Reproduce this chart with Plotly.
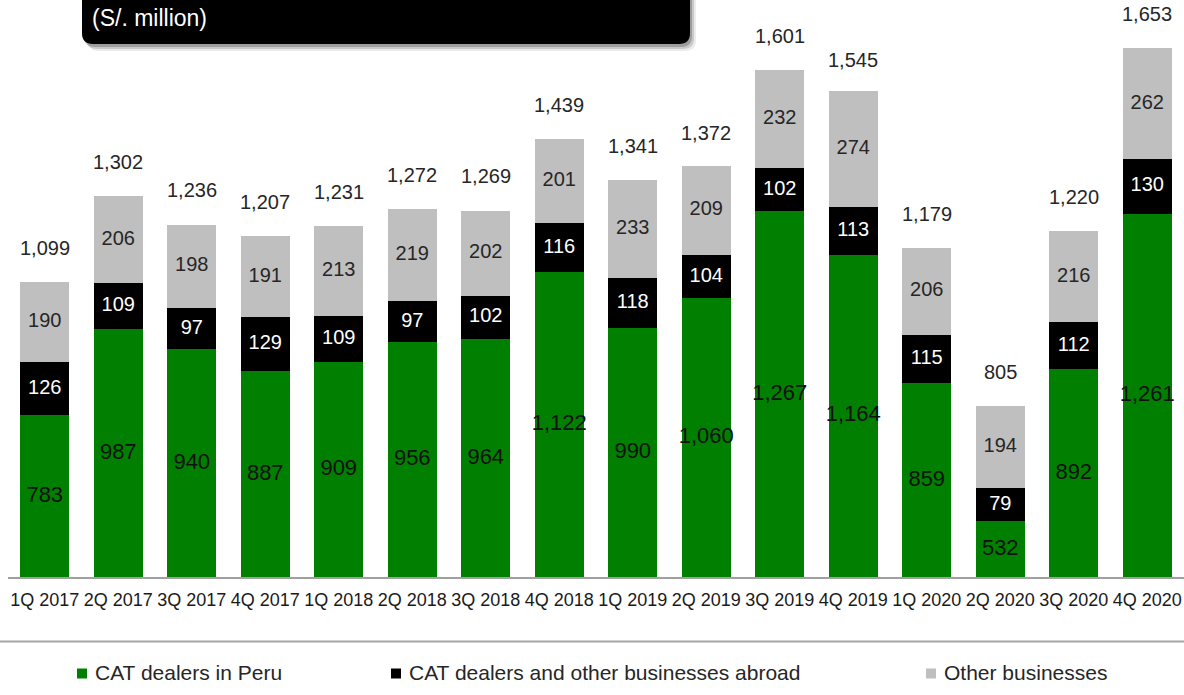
import plotly.graph_objects as go

# Quarterly revenues by business line (S/. million)
quarters = ["1Q 2017", "2Q 2017", "3Q 2017", "4Q 2017",
            "1Q 2018", "2Q 2018", "3Q 2018", "4Q 2018",
            "1Q 2019", "2Q 2019", "3Q 2019", "4Q 2019",
            "1Q 2020", "2Q 2020", "3Q 2020", "4Q 2020"]
cat_peru = [783, 987, 940, 887, 909, 956, 964, 1122, 990, 1060, 1267, 1164, 859, 532, 892, 1261]
cat_abroad = [126, 109, 97, 129, 109, 97, 102, 116, 118, 104, 102, 113, 115, 79, 112, 130]
other_biz = [190, 206, 198, 191, 213, 219, 202, 201, 233, 209, 232, 274, 206, 194, 216, 262]
totals = [1099, 1302, 1236, 1207, 1231, 1272, 1269, 1439, 1341, 1372, 1601, 1545, 1179, 805, 1220, 1653]

GREEN = "#007F00"
BLACK = "#000000"
GRAY = "#BFBFBF"
FONT = "Liberation Sans, Arial, sans-serif"

W, H = 1184, 695
ML, MR, MT, MB = 8, 0, 0, 118
PW, PH = W - ML - MR, H - MT - MB
Y_MIN = 400
PX_PER_UNIT = 0.422
Y_MAX = Y_MIN + PH / PX_PER_UNIT


def pxx(x):
    return (x - ML) / PW


def pxy(y):
    return (H - MB - y) / PH


fig = go.Figure()

fig.add_trace(go.Bar(x=quarters, y=cat_peru, name="CAT dealers in Peru",
                     marker=dict(color=GREEN, line=dict(width=0))))
fig.add_trace(go.Bar(x=quarters, y=cat_abroad, name="CAT dealers and other businesses abroad",
                     marker=dict(color=BLACK, line=dict(width=0))))
fig.add_trace(go.Bar(x=quarters, y=other_biz, name="Other businesses",
                     marker=dict(color=GRAY, line=dict(width=0))))

# segment labels, centred in the visible part of each segment
peru_mid = [(Y_MIN + g) / 2 for g in cat_peru]
abroad_mid = [g + b / 2 for g, b in zip(cat_peru, cat_abroad)]
other_mid = [g + b + o / 2 for g, b, o in zip(cat_peru, cat_abroad, other_biz)]


def fmt(v):
    return f"{v:,}"


fig.add_trace(go.Scatter(x=quarters, y=peru_mid, mode="text",
                         text=[fmt(v) for v in cat_peru],
                         textfont=dict(family=FONT, size=22, color="#111111"),
                         hoverinfo="skip"))
fig.add_trace(go.Scatter(x=quarters, y=abroad_mid, mode="text",
                         text=[fmt(v) for v in cat_abroad],
                         textfont=dict(family=FONT, size=20, color="#FFFFFF"),
                         hoverinfo="skip"))
fig.add_trace(go.Scatter(x=quarters, y=other_mid, mode="text",
                         text=[fmt(v) for v in other_biz],
                         textfont=dict(family=FONT, size=20, color="#262626"),
                         hoverinfo="skip"))

annotations = []
for q, t in zip(quarters, totals):
    annotations.append(dict(x=q, y=t, xref="x", yref="y", text=fmt(t),
                            showarrow=False, yanchor="middle", yshift=34,
                            font=dict(family=FONT, size=20, color="#262626")))

shapes = []


def rounded_box(x0, y0, x1, y1, r):
    pts = [
        ("M", [(x0, y0)]),
        ("L", [(x1, y0)]),
        ("L", [(x1, y1 - r)]),
        ("Q", [(x1, y1), (x1 - r, y1)]),
        ("L", [(x0 + r, y1)]),
        ("Q", [(x0, y1), (x0, y1 - r)]),
    ]
    s = ""
    for cmd, ps in pts:
        s += cmd + " " + " ".join(f"{pxx(a):.5f},{pxy(b):.5f}" for a, b in ps) + " "
    return s + "Z"


# header box with soft drop shadow
for dx, dy, alpha in [(6, 7, 0.08), (4, 5, 0.14), (2, 3, 0.22)]:
    shapes.append(dict(type="path", xref="paper", yref="paper",
                       path=rounded_box(82 + dx, -30 + dy, 690 + dx, 44 + dy, 11),
                       fillcolor=f"rgba(0,0,0,{alpha})", line=dict(width=0), layer="above"))
shapes.append(dict(type="path", xref="paper", yref="paper",
                   path=rounded_box(82, -30, 690, 44, 11),
                   fillcolor="#000000", line=dict(width=0), layer="above"))
annotations.append(dict(x=pxx(90), y=pxy(18), xref="paper", yref="paper",
                        text="(S/. million)", showarrow=False,
                        xanchor="left", yanchor="middle",
                        font=dict(family=FONT, size=23, color="#FFFFFF")))

# separator above the legend
shapes.append(dict(type="line", xref="paper", yref="paper",
                   x0=pxx(0), x1=pxx(W), y0=pxy(641.5), y1=pxy(641.5),
                   line=dict(color="#A6A6A6", width=2)))

# legend
legend_items = [("CAT dealers in Peru", GREEN, 77),
                ("CAT dealers and other businesses abroad", BLACK, 391),
                ("Other businesses", GRAY, 926)]
for label, color, x in legend_items:
    shapes.append(dict(type="rect", xref="paper", yref="paper",
                       x0=pxx(x), x1=pxx(x + 10), y0=pxy(668.5), y1=pxy(678.5),
                       fillcolor=color, line=dict(width=0)))
    annotations.append(dict(x=pxx(x + 16), y=pxy(672.5), xref="paper", yref="paper",
                            text=label, showarrow=False, xanchor="left", yanchor="middle",
                            font=dict(family=FONT, size=21, color="#262626")))

fig.update_layout(
    width=W, height=H,
    margin=dict(l=ML, r=MR, t=MT, b=MB, pad=0, autoexpand=False),
    barmode="stack", bargap=0.333,
    plot_bgcolor="#FFFFFF", paper_bgcolor="#FFFFFF",
    showlegend=False,
    shapes=shapes, annotations=annotations,
    xaxis=dict(type="category", range=[-0.5, len(quarters) - 0.5],
               showgrid=False, zeroline=False, automargin=False,
               showline=True, linecolor="#A0A0A0", linewidth=1.5,
               ticks="", ticklabelstandoff=6, tickangle=0,
               tickfont=dict(family=FONT, size=18, color="#1A1A1A")),
    yaxis=dict(range=[Y_MIN, Y_MAX], visible=False, showgrid=False, zeroline=False,
               automargin=False),
)

fig.write_html("out.html")
